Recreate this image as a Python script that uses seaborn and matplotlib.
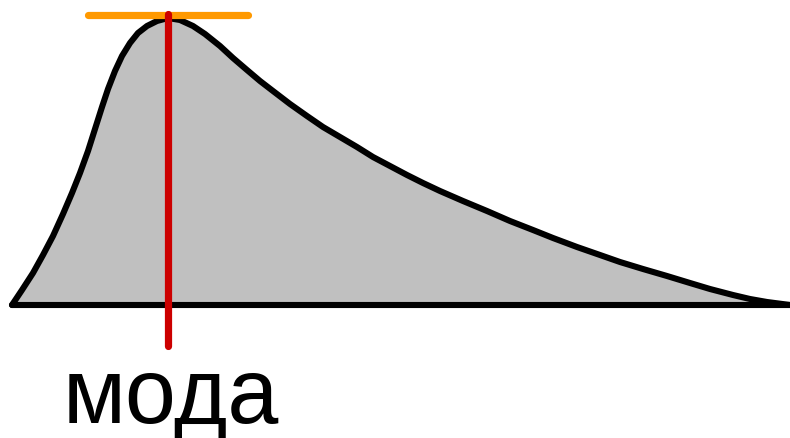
import pandas as pd
import matplotlib.pyplot as plt
import seaborn as sns

# ===============================
# Curve (x along baseline, top edge in picture rows)
# ===============================
curve_x = [12, 22, 33, 43, 53, 63, 72, 80, 88, 95, 102, 108, 115, 122,
           130, 138, 147, 157, 168, 180, 193, 205, 220, 233, 247, 260,
           273, 290, 307, 323, 340, 357, 373, 390, 407, 423, 440, 463,
           487, 510, 533, 553, 577, 600, 620, 643, 667, 690, 710, 733,
           750, 767, 790]
curve_top = [306, 291, 274, 256, 237, 215, 194, 174, 152, 130, 108, 90,
             72, 57, 44, 34, 27, 22, 19, 21, 27, 35, 47, 59, 71, 82,
             92, 105, 117, 128, 138, 148, 158, 167, 176, 184, 192, 202,
             212, 222, 231, 239, 248, 256, 263, 270, 277, 284, 290, 296,
             300, 303, 306]

baseline = 306
mode_x = 168
mode_label = 'мода'

df = pd.DataFrame({'x': curve_x, 'height': [baseline - y for y in curve_top]})

# ===============================
# Draw
# ===============================
sns.set_style('white')
fig = plt.figure(figsize=(7.9, 4.39), dpi=100)
ax = fig.add_axes([0, 0, 1, 1])

ax.fill_between(df['x'], 0, df['height'], color='#c0c0c0', lw=0)
sns.lineplot(data=df, x='x', y='height', sort=False, estimator=None,
             color='black', lw=4.4, ax=ax,
             solid_joinstyle='round', solid_capstyle='round')
ax.plot([curve_x[0], curve_x[-1]], [0, 0], color='black', lw=4.4,
        solid_capstyle='round')

peak = df['height'].max()
ax.plot([88, 248], [peak + 3, peak + 3], color='#ff9900', lw=5.2,
        solid_capstyle='round')
ax.plot([mode_x, mode_x], [peak + 4, baseline - 347], color='#cc0000',
        lw=5.2, solid_capstyle='round')

ax.text(mode_x + 3, baseline - 423, mode_label, ha='center', va='baseline',
        fontsize=66, color='black', family=['Liberation Sans', 'DejaVu Sans'])

ax.set_xlim(0, 790)
ax.set_ylim(baseline - 439, baseline)
ax.axis('off')

plt.savefig('out.png', dpi=100)
plt.close()
